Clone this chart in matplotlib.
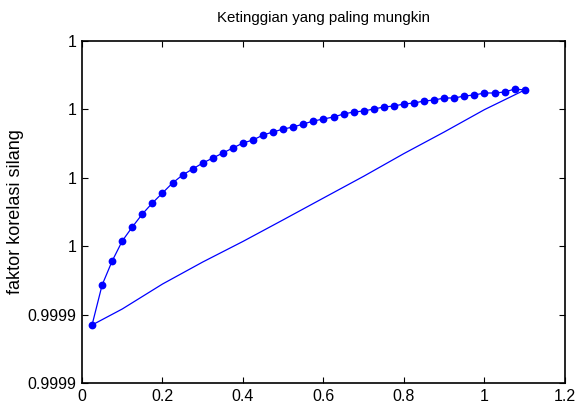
import numpy as np
import matplotlib
matplotlib.use("Agg")
import matplotlib.pyplot as plt

# data
x_marked = np.arange(1, 45) * 0.025
y_marked = [0.99993848, 0.99994433, 0.99994784, 0.99995076, 0.99995281,
            0.99995471, 0.99995632, 0.99995778, 0.99995924, 0.99996041,
            0.99996129, 0.99996216, 0.99996289, 0.99996363, 0.99996436,
            0.99996509, 0.99996553, 0.99996626, 0.99996670, 0.99996713,
            0.99996743, 0.99996787, 0.99996830, 0.99996860, 0.99996889,
            0.99996933, 0.99996962, 0.99996977, 0.99997006, 0.99997035,
            0.99997050, 0.99997079, 0.99997094, 0.99997123, 0.99997137,
            0.99997167, 0.99997167, 0.99997196, 0.99997211, 0.99997240,
            0.99997240, 0.99997254, 0.99997298, 0.99997284]

x_thin = [0.025, 0.1, 0.2, 0.3, 0.4, 0.5, 0.6, 0.7, 0.8, 0.9, 1.0, 1.1]
y_thin = [0.99993848, 0.99994082, 0.99994447, 0.99994769, 0.99995070,
          0.99995386, 0.99995705, 0.99996023, 0.99996355, 0.99996670,
          0.99996997, 0.99997284]

x_ticks = [0, 0.2, 0.4, 0.6, 0.8, 1.0, 1.2]
x_tick_labels = ["0", "0.2", "0.4", "0.6", "0.8", "1", "1.2"]
y_ticks = [0.99993, 0.99994, 0.99995, 0.99996, 0.99997, 0.99998]
y_tick_labels = ["0.9999", "0.9999", "1", "1", "1", "1"]

sans = ["Liberation Sans", "DejaVu Sans"]

fig = plt.figure(figsize=(5.79, 4.18), dpi=100)
ax = fig.add_axes([0.1416, 0.0837, 0.8342, 0.8182])

ax.plot(x_thin, y_thin, color="#0000ff", lw=0.9)
ax.plot(x_marked, y_marked, color="#0000ff", lw=0.9, marker="o",
        markersize=5.6, markeredgewidth=0)

ax.set_xlim(0, 1.2)
ax.set_ylim(y_ticks[0], y_ticks[-1])
ax.set_xticks(x_ticks)
ax.set_xticklabels(x_tick_labels, family=sans, fontsize=11.5)
ax.set_yticks(y_ticks)
ax.set_yticklabels(y_tick_labels, family=sans, fontsize=11.5)
ax.tick_params(direction="in", length=4, width=0.8, top=True, right=True, pad=4)
for s in ax.spines.values():
    s.set_linewidth(1.2)

ax.set_title("Ketinggian yang paling mungkin", family=sans, fontsize=10.8, pad=14)
ax.set_ylabel("faktor korelasi silang", family=sans, fontsize=13)
ax.yaxis.set_label_coords(-0.12, 0.5)

fig.savefig("out.png", dpi=100)
